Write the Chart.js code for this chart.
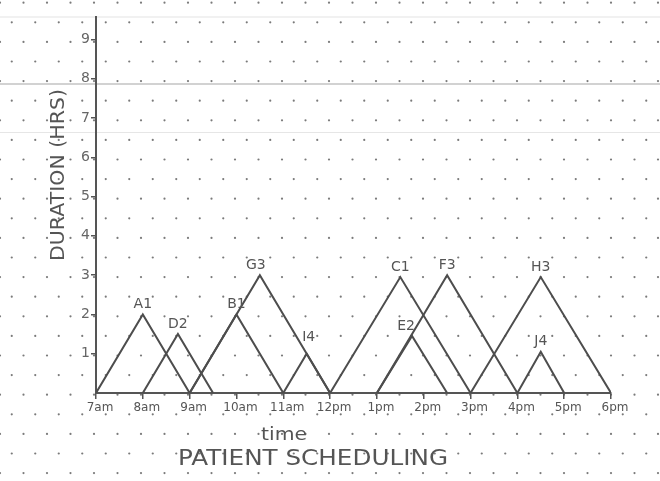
<!DOCTYPE html>
<html><head><meta charset="utf-8">
<script src="https://cdn.jsdelivr.net/npm/chart.js@4"></script>
<style>html,body{margin:0;padding:0;background:#fff;} canvas{display:block;}</style>
</head><body>
<canvas id="c" width="660" height="481"></canvas>
<script>
const patients = ['A1','D2','B1','G3','I4','C1','E2','F3','H3','J4'];
const startHour = [7, 8, 9, 9, 11, 12, 13, 13, 15, 16];
const peakHour = [8, 8.75, 10, 10.5, 11.5, 13.5, 13.75, 14.5, 16.5, 16.5];
const endHour = [9, 9.5, 11, 12, 12, 15, 14.5, 16, 18, 17];
const durationHrs = [2, 1.5, 2, 3, 1, 2.95, 1.45, 3, 2.95, 1.05];
const hourTicks = [7, 8, 9, 10, 11, 12, 13, 14, 15, 16, 17, 18];
const hourLabels = ['7am','8am','9am','10am','11am','12pm','1pm','2pm','3pm','4pm','5pm','6pm'];
const durationTicks = [1, 2, 3, 4, 5, 6, 7, 8, 9];
const yTitle = 'DURATION (HRS)';
const xTitle = 'time';
const chartTitle = 'PATIENT SCHEDULING';

const INK = '#4d4d4d';
const FONT = '"DejaVu Sans", sans-serif';

function fitText(ctx, text, cx, cy, w, size, rot, color) {
  ctx.save();
  ctx.translate(cx, cy);
  ctx.rotate(rot);
  ctx.font = size + 'px ' + FONT;
  const m = ctx.measureText(text).width;
  ctx.scale(w / m, 1);
  ctx.textAlign = 'center';
  ctx.textBaseline = 'middle';
  ctx.fillStyle = color;
  ctx.fillText(text, 0, 0);
  ctx.restore();
}

const paperPlugin = {
  id: 'paper',
  beforeDraw(chart) {
    const ctx = chart.ctx;
    ctx.save();
    ctx.fillStyle = '#ffffff';
    ctx.fillRect(0, 0, chart.width, chart.height);
    [[17, '#e4e4e4', 1.2], [84, '#d2d2d2', 2], [132.5, '#e6e6e6', 1.2]].forEach(([y, c, w]) => {
      ctx.strokeStyle = c; ctx.lineWidth = w;
      ctx.beginPath(); ctx.moveTo(0, y); ctx.lineTo(chart.width, y); ctx.stroke();
    });
    ctx.fillStyle = '#7a7a7a';
    for (let r = 0; r < 26; r++) {
      const y = 2.7 + 19.6 * r;
      const off = (r % 2) ? 11.75 : 0;
      for (let k = -1; k < 30; k++) {
        const x = off + 23.5 * k;
        if (x < 0 || x > chart.width) continue;
        ctx.beginPath(); ctx.arc(x, y, 1.1, 0, Math.PI * 2); ctx.fill();
      }
    }
    ctx.restore();
  }
};

const annotPlugin = {
  id: 'annot',
  afterDatasetsDraw(chart) {
    const ctx = chart.ctx;
    const xs = chart.scales.x, ys = chart.scales.y;
    ctx.save();
    ctx.font = '14px ' + FONT;
    ctx.fillStyle = '#555';
    ctx.textAlign = 'center';
    ctx.textBaseline = 'bottom';
    patients.forEach((p, i) => {
      const px = xs.getPixelForValue(peakHour[i]);
      const py = ys.getPixelForValue(durationHrs[i]);
      const dx = p === 'E2' ? -6 : (p === 'G3' ? -4 : (p === 'I4' ? 2 : 0));
      const dy = p === 'I4' ? -9 : -3;
      ctx.fillText(p, px + dx, py + dy);
    });
    ctx.restore();
    fitText(ctx, yTitle, 59, 175, 172, 20, -Math.PI / 2, '#555');
    fitText(ctx, xTitle, 284, 435, 46, 18, 0, '#555');
    fitText(ctx, chartTitle, 313, 459, 270, 22, 0, '#555');
  }
};

new Chart(document.getElementById('c'), {
  type: 'line',
  data: {
    datasets: patients.map((p, i) => ({
      label: p,
      data: [
        { x: startHour[i], y: 0 },
        { x: peakHour[i], y: durationHrs[i] },
        { x: endHour[i], y: 0 }
      ],
      borderColor: INK,
      borderWidth: 2,
      pointRadius: 0,
      fill: false,
      tension: 0
    }))
  },
  options: {
    responsive: false,
    animation: false,
    layout: { padding: { left: 0, right: 49, top: 17, bottom: 0 } },
    plugins: { legend: { display: false }, tooltip: { enabled: false }, title: { display: false } },
    scales: {
      x: {
        type: 'linear', min: 7, max: 18,
        afterBuildTicks: s => { s.ticks = hourTicks.map(v => ({ value: v })); },
        afterFit: s => { s.height = 88; },
        ticks: {
          callback: v => hourLabels[hourTicks.indexOf(v)],
          color: '#555', font: { family: FONT, size: 12 },
          padding: 2, labelOffset: 4, autoSkip: false, maxRotation: 0
        },
        grid: { drawOnChartArea: false, tickLength: 6, color: '#555', lineWidth: 1.5 },
        border: { color: '#555', width: 2 }
      },
      y: {
        min: 0, max: 9.57,
        afterBuildTicks: s => { s.ticks = durationTicks.map(v => ({ value: v })); },
        afterFit: s => { s.width = 96; },
        ticks: { color: '#666', font: { family: FONT, size: 14 }, padding: 1 },
        grid: { drawOnChartArea: false, tickLength: 5, color: '#555', lineWidth: 1.5 },
        border: { color: '#555', width: 2 }
      }
    }
  },
  plugins: [paperPlugin, annotPlugin]
});
</script>
</body></html>
